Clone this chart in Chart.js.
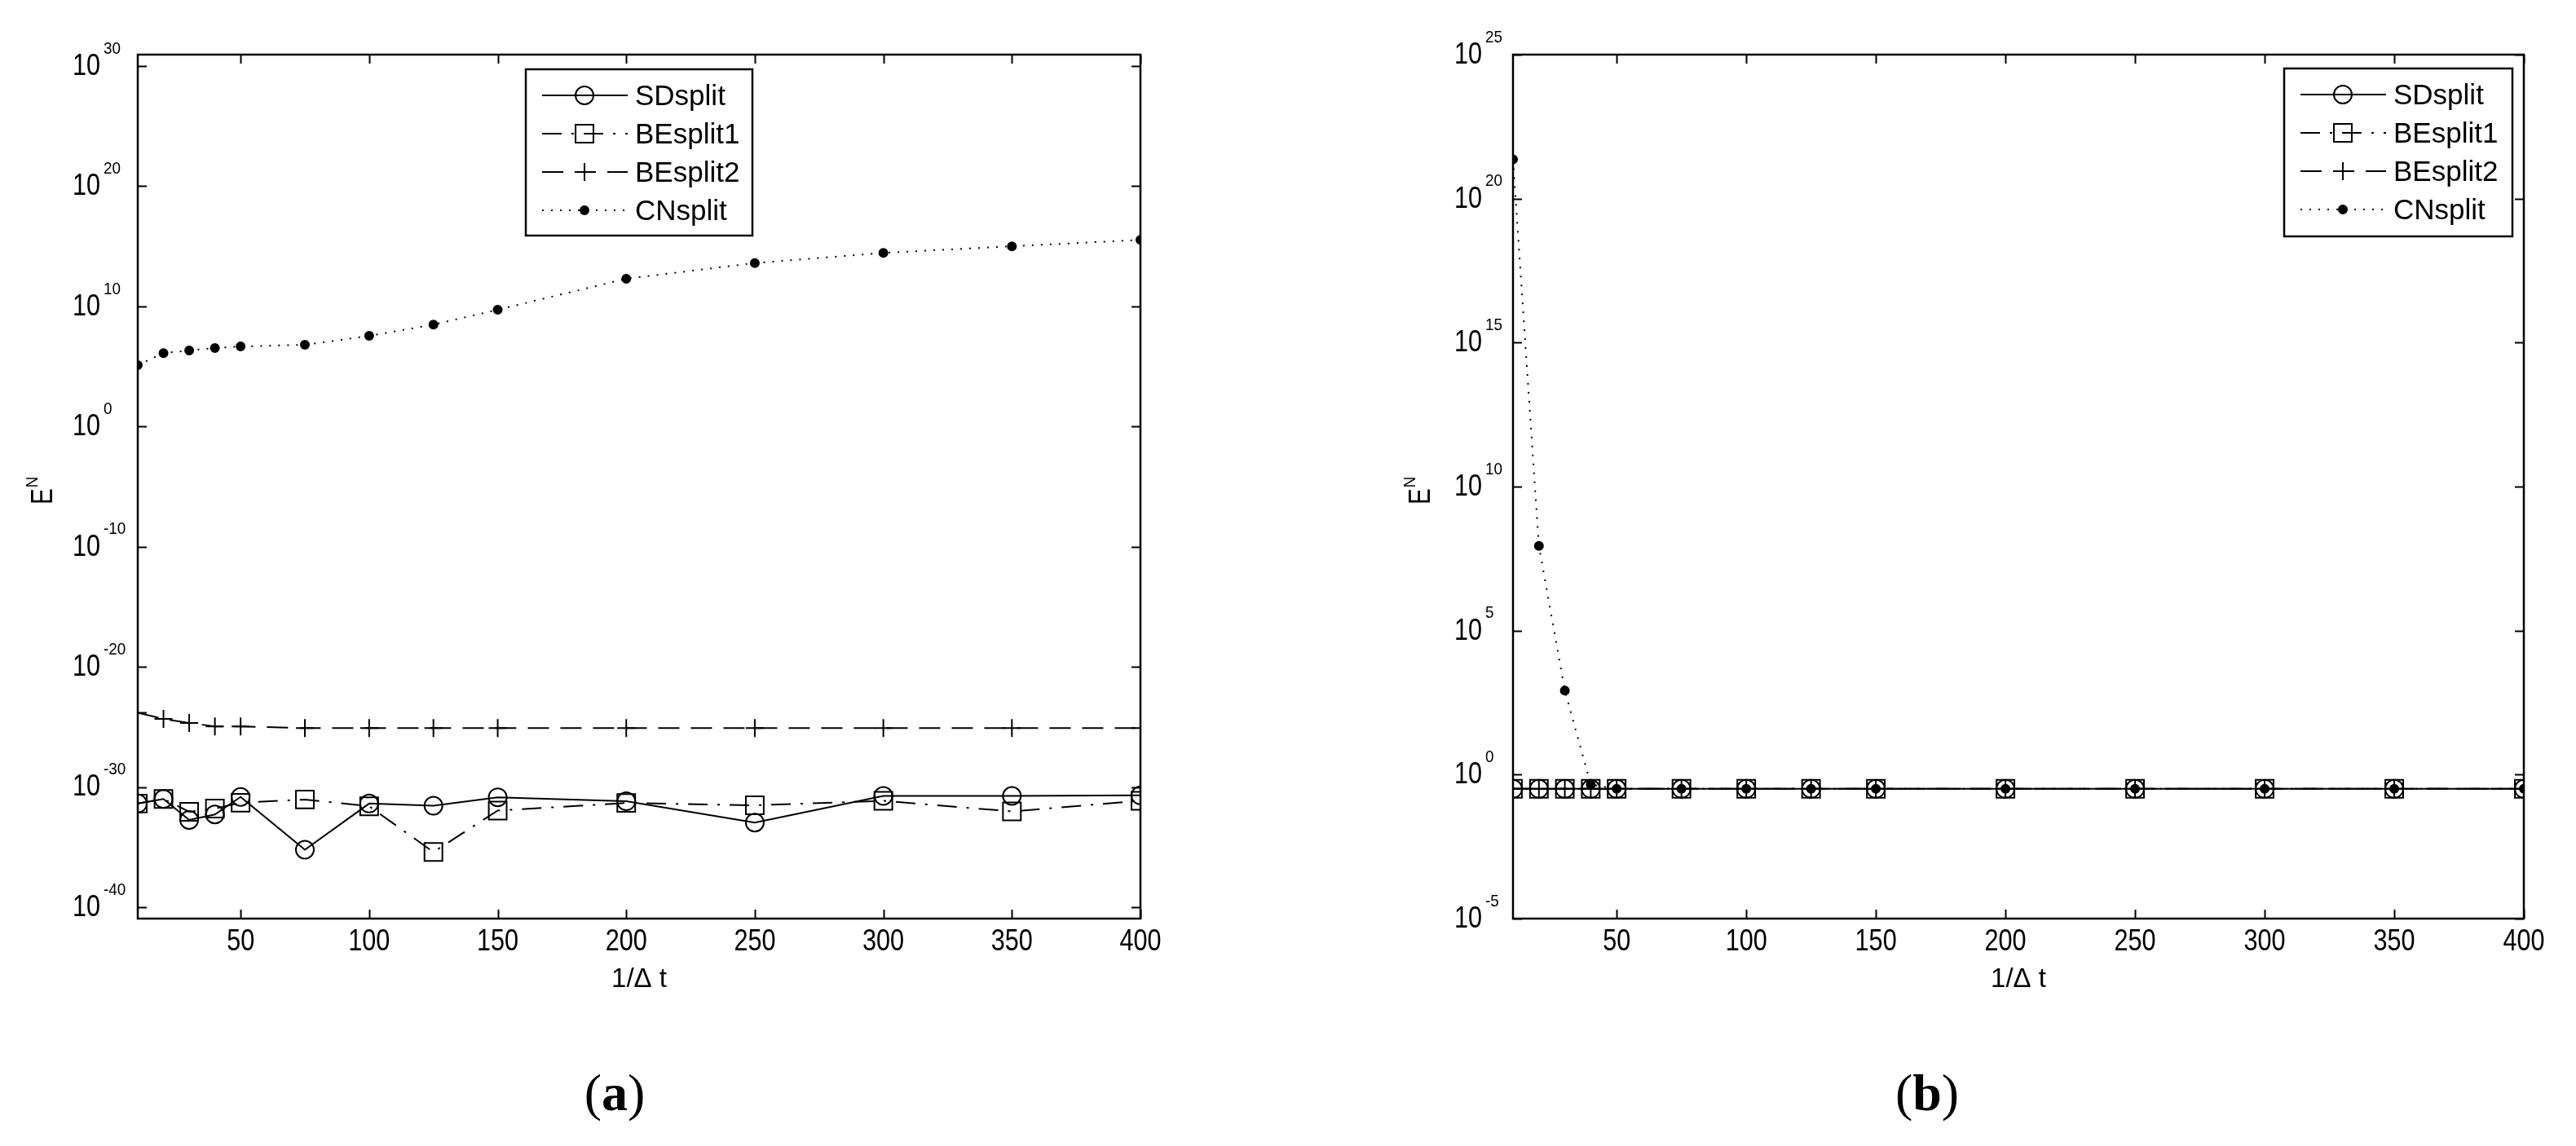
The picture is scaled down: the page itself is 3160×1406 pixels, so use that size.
<!DOCTYPE html>
<html>
<head>
<meta charset="utf-8">
<script src="https://cdn.jsdelivr.net/npm/chart.js@4.4.1/dist/chart.umd.min.js"></script>
<style>
  html, body { margin: 0; padding: 0; background: #fff; }
  body { width: 3160px; height: 1406px; position: relative; overflow: hidden; }
  canvas { position: absolute; top: 0; }
  #chartA { left: 0; }
  #chartB { left: 1580px; }
</style>
</head>
<body>
<canvas id="chartA" width="1580" height="1406"></canvas>
<canvas id="chartB" width="1580" height="1406"></canvas>
<script>
const FONT = '"Liberation Sans", Arial, sans-serif';
const SERIF = '"Liberation Serif", "Times New Roman", serif';

// x axis: 1/dt
const xValues = [10, 20, 30, 40, 50, 75, 100, 125, 150, 200, 250, 300, 350, 400];
const xTicks = [50, 100, 150, 200, 250, 300, 350, 400];
const seriesNames = ['SDsplit', 'BEsplit1', 'BEsplit2', 'CNsplit'];

// panel (a)
const sdA = [4.2e-32, 1.0e-31, 1.8e-33, 5.2e-33, 1.5e-31, 6.0e-36, 4.2e-32, 2.8e-32, 1.4e-31, 6.5e-32, 1.1e-33, 1.8e-31, 1.8e-31, 2.0e-31];
const be1A = [4.2e-32, 1.0e-31, 8.7e-33, 1.6e-32, 4.9e-32, 9.1e-32, 2.5e-32, 3.9e-36, 1.1e-32, 4.7e-32, 3.0e-32, 7.1e-32, 9.3e-33, 7.1e-32];
const be2A = [1.5e-24, 4.7e-25, 2.1e-25, 1.1e-25, 1.1e-25, 7.9e-26, 7.9e-26, 7.9e-26, 7.9e-26, 7.9e-26, 7.9e-26, 7.9e-26, 7.9e-26, 7.9e-26];
const cnA = [1.3e5, 1.3e6, 2.1e6, 3.4e6, 4.6e6, 6.3e6, 3.5e7, 3.0e8, 5.2e9, 2.0e12, 4.0e13, 2.8e14, 1.0e15, 3.4e15];
const yExpsA = [-40, -30, -20, -10, 0, 10, 20, 30];
const yRangeA = [1.12e-41, 8.9e30];

// panel (b)
const sdB = [0.32, 0.32, 0.32, 0.32, 0.32, 0.32, 0.32, 0.32, 0.32, 0.32, 0.32, 0.32, 0.32, 0.32];
const be1B = [0.32, 0.32, 0.32, 0.32, 0.32, 0.32, 0.32, 0.32, 0.32, 0.32, 0.32, 0.32, 0.32, 0.32];
const be2B = [0.32, 0.32, 0.32, 0.32, 0.32, 0.32, 0.32, 0.32, 0.32, 0.32, 0.32, 0.32, 0.32, 0.32];
const cnB = [2.3e21, 8.7e7, 8.3e2, 0.45, 0.32, 0.32, 0.32, 0.32, 0.32, 0.32, 0.32, 0.32, 0.32, 0.32];
const yExpsB = [-5, 0, 5, 10, 15, 20, 25];
const yRangeB = [1e-5, 1e25];

// line / marker look, one per series (matlab: '-o', '-.s', '--+', ':.')
const seriesStyle = [
  { dash: [], point: 'circle', radius: 11, fill: false },
  { dash: [24, 12, 3, 12], point: 'rect', radius: 15.5, fill: false },
  { dash: [26, 14], point: 'cross', radius: 11, fill: false },
  { dash: [2, 9], point: 'circle', radius: 5, fill: true },
];

// matlab's screen font has narrow digits, so squeeze the numbers a bit
function fillNarrow(ctx, text, x, y, size, sx, align) {
  ctx.save();
  ctx.font = `${size}px ${FONT}`;
  ctx.textAlign = 'left';
  ctx.textBaseline = 'middle';
  const w = ctx.measureText(text).width * sx;
  const x0 = align === 'center' ? x - w / 2 : x;
  ctx.translate(x0, y);
  ctx.scale(sx, 1);
  ctx.fillText(text, 0, 0);
  ctx.restore();
  return w;
}

function drawPow(ctx, x, y, exp) {
  const w = fillNarrow(ctx, '10', x, y + 1, 36, 0.85, 'left');
  fillNarrow(ctx, String(exp), x + w + 4, y - 21, 21, 0.9, 'left');
}

const matlabAxes = {
  id: 'matlabAxes',
  afterDatasetsDraw(chart, args, opts) {
    const { ctx, chartArea: a } = chart;
    const xs = chart.scales.x;
    const ys = chart.scales.y;
    ctx.save();
    ctx.strokeStyle = '#000';
    ctx.fillStyle = '#000';

    // inward ticks on all four sides
    ctx.lineWidth = 2;
    ctx.setLineDash([]);
    ctx.beginPath();
    xTicks.forEach(v => {
      const px = Math.round(xs.getPixelForValue(v)) + 0.5;
      ctx.moveTo(px, a.bottom); ctx.lineTo(px, a.bottom - 11);
      ctx.moveTo(px, a.top); ctx.lineTo(px, a.top + 11);
    });
    opts.yExps.forEach(e => {
      const py = Math.round(ys.getPixelForValue(10 ** e)) + 0.5;
      ctx.moveTo(a.left, py); ctx.lineTo(a.left + 11, py);
      ctx.moveTo(a.right, py); ctx.lineTo(a.right - 11, py);
    });
    ctx.stroke();

    ctx.lineWidth = 2.5;
    ctx.strokeRect(a.left, a.top, a.right - a.left, a.bottom - a.top);

    // x tick labels and title
    xTicks.forEach(v => fillNarrow(ctx, String(v), xs.getPixelForValue(v), a.bottom + 29, 36, 0.85, 'center'));
    ctx.font = `33px ${FONT}`;
    ctx.textAlign = 'center';
    ctx.textBaseline = 'middle';
    ctx.fillText('1/\u0394 t', (a.left + a.right) / 2, a.bottom + 75);

    // y tick labels 10^n
    opts.yExps.forEach(e => drawPow(ctx, a.left - opts.yLabelGap, ys.getPixelForValue(10 ** e), e));

    // y title E^N
    ctx.save();
    ctx.translate(opts.yTitleX, (a.top + a.bottom) / 2 + 8);
    ctx.rotate(-Math.PI / 2);
    const wE = fillNarrow(ctx, 'E', -14, 4, 37, 0.8, 'left');
    fillNarrow(ctx, 'N', -14 + wE + 1, -10, 21, 0.9, 'left');
    ctx.restore();

    // legend
    const lg = opts.legend;
    const bx = lg.right ? a.right - lg.right - lg.w : (a.left + a.right) / 2 - lg.w / 2;
    const by = a.top + lg.top;
    ctx.fillStyle = '#fff';
    ctx.fillRect(bx, by, lg.w, lg.h);
    ctx.fillStyle = '#000';
    ctx.lineWidth = 2.5;
    ctx.strokeRect(bx, by, lg.w, lg.h);
    chart.data.datasets.forEach((ds, i) => {
      const st = seriesStyle[i];
      const ry = by + 32 + i * 47;
      ctx.lineWidth = 2;
      ctx.setLineDash(st.dash);
      ctx.beginPath();
      ctx.moveTo(bx + 20, ry);
      ctx.lineTo(bx + 125, ry);
      ctx.stroke();
      ctx.setLineDash([]);
      ctx.fillStyle = st.fill ? '#000' : 'rgba(0,0,0,0)';
      Chart.helpers.drawPoint(ctx, { pointStyle: st.point, rotation: 0, radius: st.radius, borderWidth: 2 }, bx + 72, ry);
      ctx.fillStyle = '#000';
      ctx.font = `35px ${FONT}`;
      ctx.textAlign = 'left';
      ctx.textBaseline = 'middle';
      ctx.fillText(ds.label, bx + 134, ry + 2);
    });

    // panel label (a) / (b)
    const parts = [['(', 'normal'], [opts.panel, 'bold'], [')', 'normal']];
    let total = 0;
    parts.forEach(p => { ctx.font = `${p[1]} 64px ${SERIF}`; total += ctx.measureText(p[0]).width; });
    let px = opts.panelX - total / 2;
    ctx.textAlign = 'left';
    ctx.textBaseline = 'alphabetic';
    parts.forEach(p => {
      ctx.font = `${p[1]} 64px ${SERIF}`;
      ctx.fillText(p[0], px, 1362);
      px += ctx.measureText(p[0]).width;
    });
    ctx.restore();
  }
};

function makeChart(id, series, yRange, yExps, padding, legend, yTitleX, yLabelGap, panel, panelX) {
  return new Chart(document.getElementById(id), {
    type: 'line',
    data: {
      datasets: series.map((values, i) => ({
        label: seriesNames[i],
        data: xValues.map((x, j) => ({ x, y: values[j] })),
        order: 3 - i,
        borderColor: '#000',
        borderWidth: 2,
        borderDash: seriesStyle[i].dash,
        pointStyle: seriesStyle[i].point,
        pointRadius: seriesStyle[i].radius,
        pointBorderWidth: 2,
        pointBorderColor: '#000',
        pointBackgroundColor: seriesStyle[i].fill ? '#000' : 'rgba(0,0,0,0)',
        tension: 0,
        fill: false,
      })),
    },
    options: {
      responsive: false,
      animation: false,
      devicePixelRatio: 1,
      events: [],
      layout: { padding },
      scales: {
        x: { type: 'linear', display: false, min: 10, max: 400 },
        y: { type: 'logarithmic', display: false, min: yRange[0], max: yRange[1] },
      },
      plugins: {
        legend: { display: false },
        tooltip: { enabled: false },
        matlabAxes: { yExps, legend, yTitleX, yLabelGap, panel, panelX },
      },
    },
    plugins: [matlabAxes],
  });
}

makeChart('chartA', [sdA, be1A, be2A, cnA], yRangeA, yExpsA,
  { left: 169, top: 67, right: 181, bottom: 279 },
  { top: 18, w: 278, h: 204 }, 50, 80, 'a', 754);

makeChart('chartB', [sdB, be1B, be2B, cnB], yRangeB, yExpsB,
  { left: 276, top: 67, right: 64, bottom: 279 },
  { top: 17, right: 14, w: 280, h: 206 }, 160, 72, 'b', 784);
</script>
</body>
</html>
